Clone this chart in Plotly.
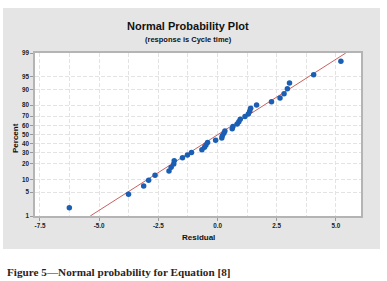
import plotly.graph_objects as go
from statistics import NormalDist

# ---- data ----
residuals = [-6.26, -3.76, -3.12, -2.91, -2.64, -2.05, -1.96, -1.85, -1.83, -1.48,
             -1.27, -1.10, -0.66, -0.55, -0.49, -0.42, -0.08, 0.18, 0.20, 0.27,
             0.31, 0.62, 0.65, 0.83, 0.90, 0.96, 1.16, 1.30, 1.36, 1.40,
             1.65, 2.28, 2.64, 2.81, 2.95, 3.04, 4.06, 5.21]
percents = [1.82, 4.43, 7.03, 9.64, 12.24, 14.84, 17.45, 20.05, 22.66, 25.26,
            27.86, 30.47, 33.07, 35.68, 38.28, 40.89, 43.49, 46.09, 48.70, 51.30,
            53.91, 56.51, 59.11, 61.72, 64.32, 66.93, 69.53, 72.14, 74.74, 77.34,
            79.95, 82.55, 85.16, 87.76, 90.36, 92.97, 95.57, 98.18]
fit_mean = 0.02
fit_sd = 2.32
y_tick_percents = [1, 5, 10, 20, 30, 40, 50, 60, 70, 80, 90, 95, 99]
x_tick_vals = [-7.5, -5.0, -2.5, 0.0, 2.5, 5.0]
x_tick_text = ["-7.5", "-5.0", "-2.5", "0.0", "2.5", "5.0"]

nd = NormalDist()
def z(p):
    return nd.inv_cdf(p / 100.0)

y_pts = [z(p) for p in percents]
y_lo, y_hi = z(1), z(99)
line_x = [fit_mean + fit_sd * y_lo, fit_mean + fit_sd * y_hi]

fig = go.Figure()
fig.add_trace(go.Scatter(x=line_x, y=[y_lo, y_hi], mode="lines",
                         line=dict(color="#c9625e", width=1), hoverinfo="skip"))
fig.add_trace(go.Scatter(x=residuals, y=y_pts, mode="markers",
                         marker=dict(color="#1a5fb4", size=5.5)))

tickfont = dict(family="Liberation Sans", size=6.3, color="#222222")
grid = dict(showgrid=True, gridcolor="#e3e3e3", griddash="4px,2px", gridwidth=1)
fig.update_xaxes(range=[-7.71, 6.06], tickvals=x_tick_vals,
                 ticktext=["<b>%s</b>" % t for t in x_tick_text],
                 minor=dict(dtick=1.25, tick0=0, showgrid=True, gridcolor="#e3e3e3",
                            griddash="4px,2px", ticks=""),
                 ticks="outside", ticklen=3, tickcolor="#999999", tickfont=tickfont,
                 showline=True, linecolor="#b4b4b4", linewidth=1.5, mirror=True,
                 zeroline=False, **grid)
fig.update_yaxes(range=[y_lo, y_hi], tickvals=[z(p) for p in y_tick_percents],
                 ticktext=["<b>%d</b>" % p for p in y_tick_percents],
                 ticks="outside", ticklen=3, tickcolor="#999999", tickfont=tickfont,
                 showline=True, linecolor="#b4b4b4", linewidth=1.5, mirror=True,
                 zeroline=False, **grid)

L, T, W, H = 35, 53, 326, 163
def px(xp):
    return (xp - L) / W
def py(yp):
    return (T + H - yp) / H

fig.add_shape(type="rect", xref="paper", yref="paper", x0=px(3), x1=px(380),
              y0=py(249), y1=py(8), fillcolor="#e5e5e5", line=dict(width=0),
              layer="below")
fig.add_shape(type="rect", xref="paper", yref="paper", x0=0, x1=1, y0=0, y1=1,
              fillcolor="white", line=dict(width=0), layer="below")

ann = [
    dict(text="<b>Normal Probability Plot</b>", x=px(188), y=py(26), size=11),
    dict(text="<b>(response is Cycle time)</b>", x=px(188), y=py(39), size=7.5),
    dict(text="<b>Residual</b>", x=px(198), y=py(237), size=8),
]
for a in ann:
    fig.add_annotation(text=a["text"], x=a["x"], y=a["y"], xref="paper", yref="paper",
                       showarrow=False, xanchor="center", yanchor="middle",
                       font=dict(family="Liberation Sans", size=a["size"], color="#111111"))
fig.add_annotation(text="<b>Percent</b>", x=px(15), y=py(138), xref="paper", yref="paper",
                   showarrow=False, textangle=-90, xanchor="center", yanchor="middle",
                   font=dict(family="Liberation Sans", size=8, color="#111111"))
fig.add_annotation(text="<b>Figure 5—Normal probability for Equation [8]</b>",
                   x=px(5), y=py(272), xref="paper", yref="paper", showarrow=False,
                   xanchor="left", yanchor="middle",
                   font=dict(family="Liberation Serif", size=11.2, color="#2e1f1f"))

fig.update_layout(width=387, height=281, showlegend=False,
                  margin=dict(l=L, r=387 - L - W, t=T, b=281 - T - H),
                  paper_bgcolor="white", plot_bgcolor="rgba(0,0,0,0)")
fig.write_html("out.html", config={"displayModeBar": False},
               post_script="document.body.style.margin='0';document.body.style.overflow='hidden';")
